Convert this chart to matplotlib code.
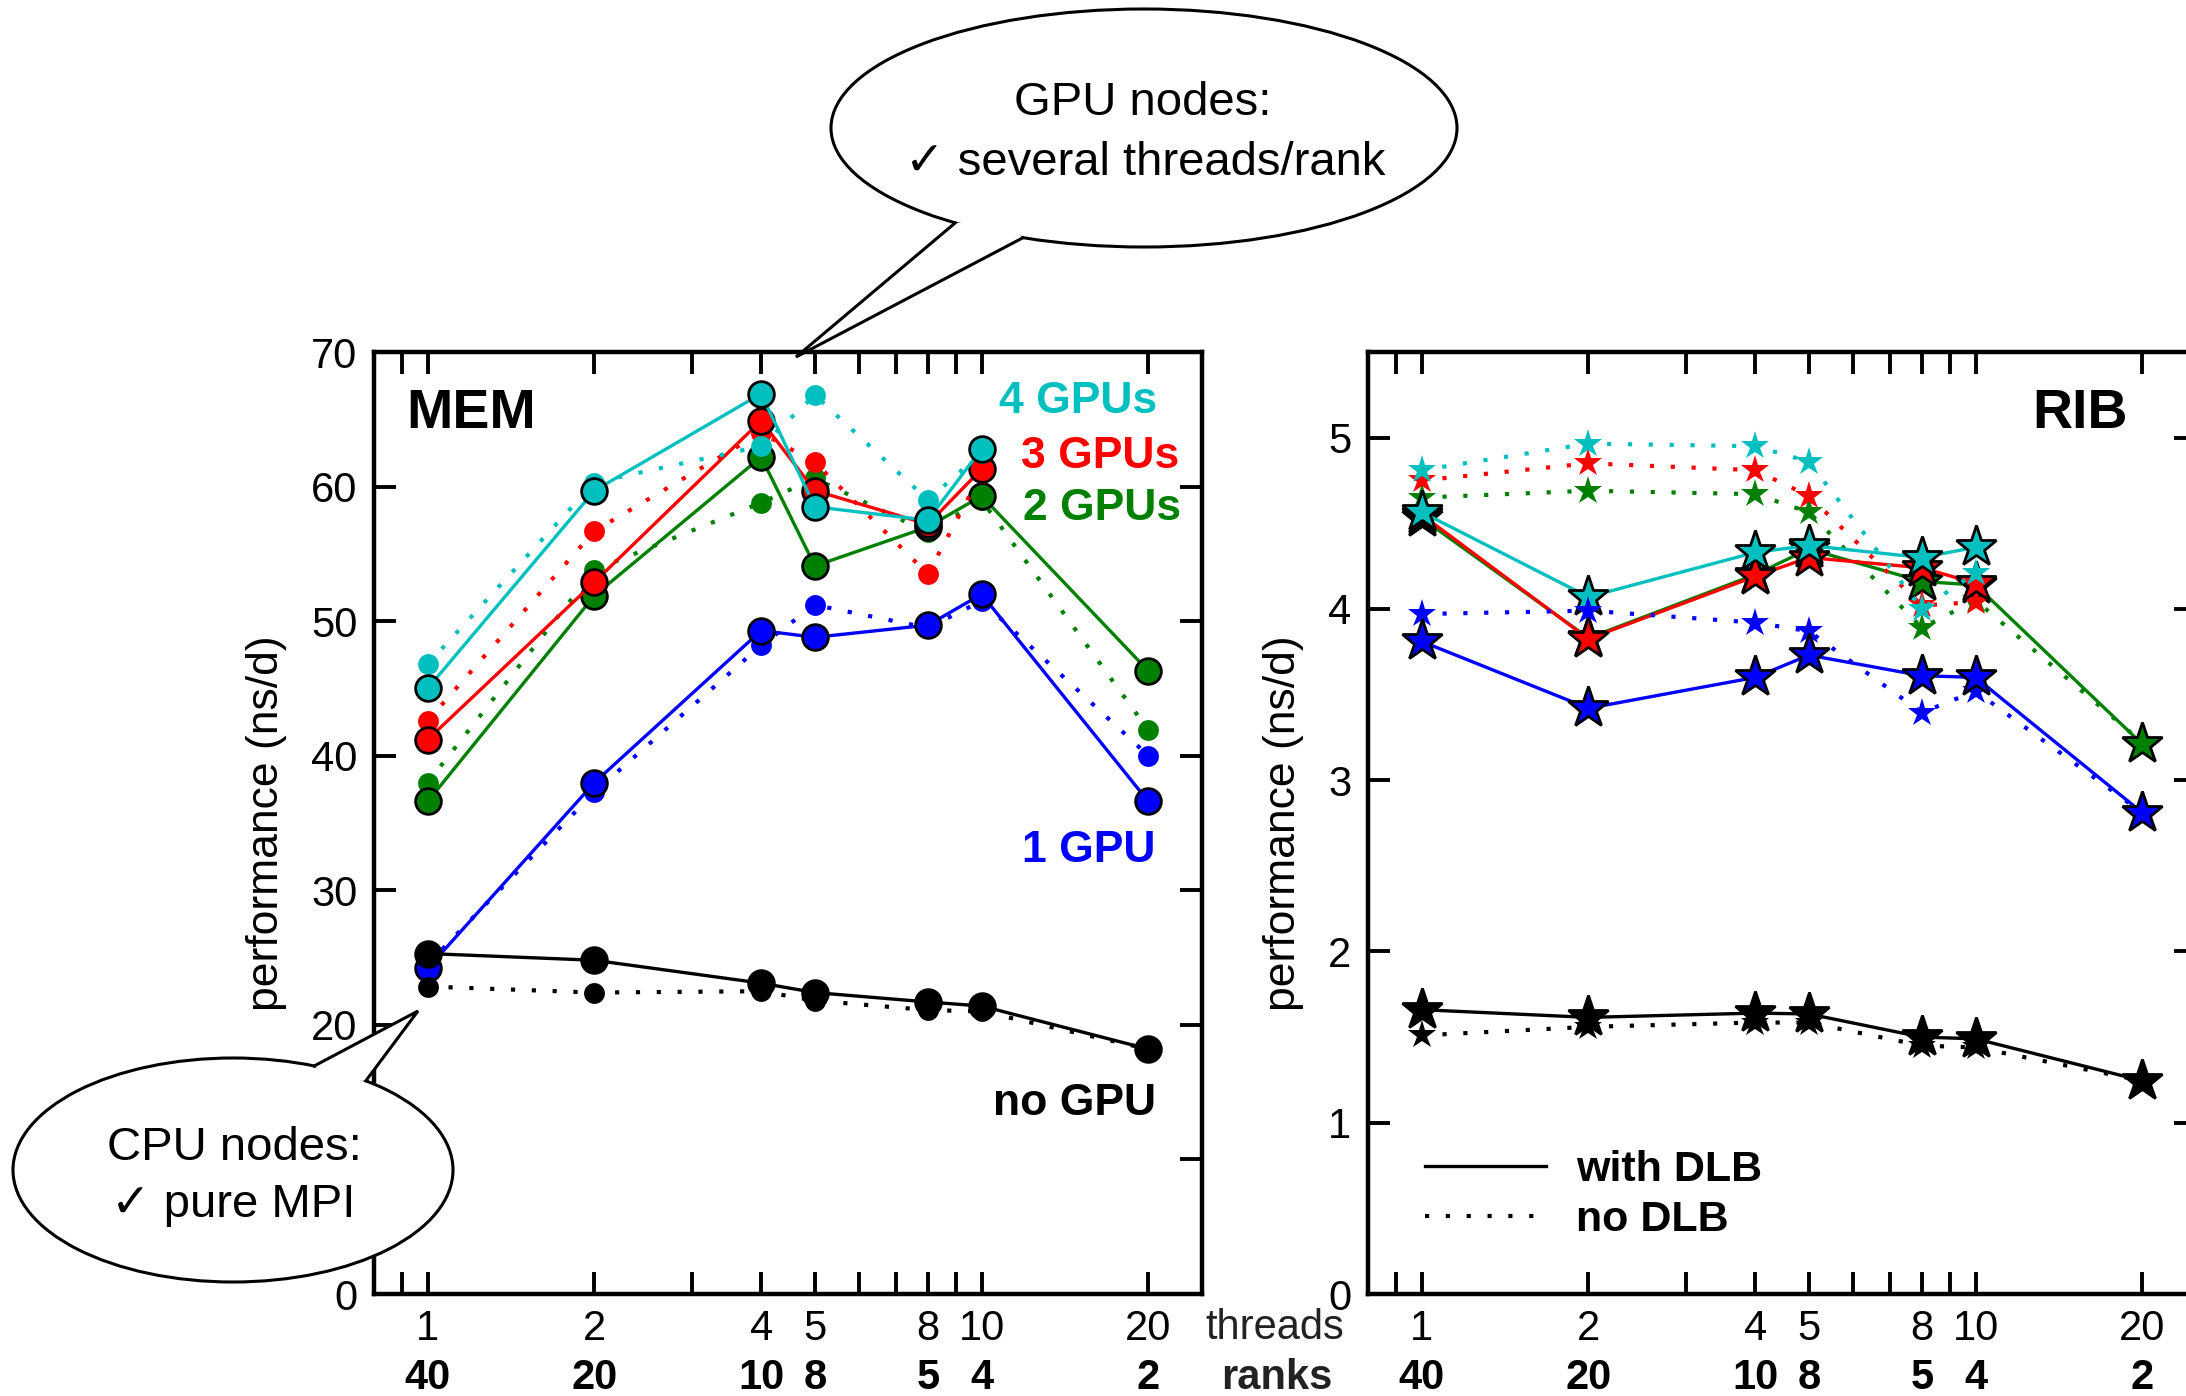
import numpy as np
import matplotlib
matplotlib.use('agg')
import matplotlib.pyplot as plt
import matplotlib.ticker as ticker
import matplotlib.transforms as mtransforms
from matplotlib.patches import Ellipse, Polygon
from matplotlib.lines import Line2D

plt.rcParams['font.family'] = ['Liberation Sans', 'DejaVu Sans']

W, H = 2186, 1396

threads = [1, 2, 4, 5, 8, 10, 20]
ranks = [40, 20, 10, 8, 5, 4, 2]
minor_threads = [0.9, 3, 6, 7, 9]

# MEM benchmark, ns/day (dlb = with dynamic load balancing)
mem_0gpu_dlb = [25.3, 24.8, 23.1, 22.4, 21.7, 21.4, 18.2]
mem_0gpu_nodlb = [22.85, 22.4, 22.5, 21.8, 21.1, 21.0, 18.2]
mem_1gpu_dlb = [24.2, 38.0, 49.3, 48.8, 49.7, 52.0, 36.6]
mem_1gpu_nodlb = [24.5, 37.3, 48.2, 51.2, 49.5, 51.5, 40.0]
mem_2gpu_dlb = [36.6, 51.9, 62.2, 54.1, 57.0, 59.3, 46.3]
mem_2gpu_nodlb = [38.0, 53.8, 58.8, 60.6, 56.6, 59.0, 41.9]
mem_3gpu_dlb = [41.2, 52.9, 64.9, 59.7, 57.2, 61.3]
mem_3gpu_nodlb = [42.6, 56.7, 64.0, 61.8, 53.5, 61.0]
mem_4gpu_dlb = [45.0, 59.7, 66.9, 58.5, 57.5, 62.8]
mem_4gpu_nodlb = [46.8, 60.3, 63.0, 66.8, 59.0, 62.5]

# RIB benchmark, ns/day
rib_0gpu_dlb = [1.66, 1.615, 1.64, 1.635, 1.50, 1.49, 1.245]
rib_0gpu_nodlb = [1.51, 1.56, 1.585, 1.585, 1.45, 1.44, 1.245]
rib_1gpu_dlb = [3.81, 3.42, 3.60, 3.73, 3.61, 3.60, 2.81]
rib_1gpu_nodlb = [3.97, 3.99, 3.92, 3.87, 3.395, 3.52, 2.81]
rib_2gpu_dlb = [4.53, 3.83, 4.20, 4.35, 4.16, 4.14, 3.21]
rib_2gpu_nodlb = [4.65, 4.69, 4.67, 4.565, 3.89, 4.05, 3.22]
rib_3gpu_dlb = [4.55, 3.825, 4.19, 4.30, 4.24, 4.15]
rib_3gpu_nodlb = [4.75, 4.85, 4.81, 4.66, 4.02, 4.04]
rib_4gpu_dlb = [4.565, 4.07, 4.33, 4.37, 4.30, 4.36]
rib_4gpu_nodlb = [4.81, 4.965, 4.95, 4.86, 4.00, 4.21]

CYAN, RED, GREEN, BLUE = '#00BFBF', '#FF0000', '#008000', '#0000FF'
DOTS = (0, (1, 4))


def fp(x, y):
    # pixel position (from top-left) -> figure fraction
    return (x / W, 1 - y / H)


fig = plt.figure(figsize=(W / 100, H / 100), dpi=100)
ax1 = fig.add_axes([374 / W, (H - 1294) / H, 828 / W, 942 / H])
ax2 = fig.add_axes([1368 / W, (H - 1294) / H, 828 / W, 942 / H])


def series(ax, dlb, nodlb, color, marker, big, small):
    ax.plot(threads[:len(nodlb)], nodlb, linestyle=DOTS, lw=3.0, color=color,
            marker=marker, ms=small, mec=color, mew=0)
    ax.plot(threads[:len(dlb)], dlb, '-', lw=2.4, color=color,
            marker=marker, ms=big, mec='k', mew=2.0)


series(ax1, mem_2gpu_dlb, mem_2gpu_nodlb, GREEN, 'o', 18.5, 15)
series(ax1, mem_3gpu_dlb, mem_3gpu_nodlb, RED, 'o', 18.5, 15)
series(ax1, mem_4gpu_dlb, mem_4gpu_nodlb, CYAN, 'o', 18.5, 15)
series(ax1, mem_1gpu_dlb, mem_1gpu_nodlb, BLUE, 'o', 18.5, 15)
series(ax1, mem_0gpu_dlb, mem_0gpu_nodlb, 'k', 'o', 18.5, 15)

series(ax2, rib_2gpu_dlb, rib_2gpu_nodlb, GREEN, '*', 31, 21)
series(ax2, rib_3gpu_dlb, rib_3gpu_nodlb, RED, '*', 31, 21)
series(ax2, rib_4gpu_dlb, rib_4gpu_nodlb, CYAN, '*', 31, 21)
series(ax2, rib_1gpu_dlb, rib_1gpu_nodlb, BLUE, '*', 31, 21)
series(ax2, rib_0gpu_dlb, rib_0gpu_nodlb, 'k', '*', 31, 21)

ax1.set_ylim(0, 70)
ax1.set_yticks(range(0, 71, 10))
ax2.set_ylim(0, 5.5)
ax2.set_yticks(range(0, 6))

blend = lambda ax: mtransforms.blended_transform_factory(ax.transData, fig.transFigure)
for ax in (ax1, ax2):
    ax.set_xscale('log')
    ax.set_xlim(0.8, 25)
    ax.set_xticks(threads)
    ax.set_xticklabels([str(t) for t in threads])
    ax.set_xticks(minor_threads, minor=True)
    ax.xaxis.set_minor_formatter(ticker.NullFormatter())
    ax.tick_params(which='both', direction='in', length=16, width=2.8,
                   top=True, right=True, labelsize=30, pad=11)
    ax.tick_params(axis='y', pad=12)
    for s in ax.spines.values():
        s.set_linewidth(3.2)
    ax.set_ylabel('performance (ns/d)', fontsize=32, labelpad=17)
    for t, r in zip(threads, ranks):
        ax.text(t, fp(0, 1389)[1], str(r), transform=blend(ax), ha='center', va='baseline',
                fontsize=30, weight='bold', clip_on=False)

fig.text(*fp(1275, 1339), 'threads', ha='center', va='baseline', fontsize=30, color='#222222')
fig.text(*fp(1277, 1389), 'ranks', ha='center', va='baseline', fontsize=30, weight='bold', color='#222222')

# panel titles and curve labels
fig.text(*fp(406, 428), 'MEM', ha='left', va='baseline', fontsize=40, weight='bold')
fig.text(*fp(2128, 428), 'RIB', ha='right', va='baseline', fontsize=40, weight='bold')
for txt, col, x, y in [('4 GPUs', CYAN, 1157, 413), ('3 GPUs', RED, 1179, 468),
                       ('2 GPUs', GREEN, 1181, 520), ('1 GPU', BLUE, 1156, 862),
                       ('no GPU', 'k', 1156, 1115)]:
    fig.text(*fp(x, y), txt, color=col, ha='right', va='baseline', fontsize=32, weight='bold')

handles = [Line2D([], [], color='k', lw=2.4),
           Line2D([], [], color='k', lw=3.0, linestyle=DOTS)]
ax2.legend(handles, ['with DLB', 'no DLB'], loc='center left', bbox_to_anchor=fp(1425, 1195),
           bbox_transform=fig.transFigure, frameon=False, borderpad=0, borderaxespad=0,
           handlelength=2.8, handletextpad=0.7, labelspacing=0.25,
           prop={'size': 31, 'weight': 'bold'})


def on_ellipse(p, c, w, h):
    dx, dy = p[0] - c[0], p[1] - c[1]
    k = 1 / np.sqrt((dx / (w / 2)) ** 2 + (dy / (h / 2)) ** 2)
    return (c[0] + dx * k, c[1] + dy * k)


def bubble(c, w, h, b1, tip, b2, lines):
    b1 = on_ellipse(b1, c, w, h)
    b2 = on_ellipse(b2, c, w, h)
    fig.add_artist(Ellipse(fp(*c), w / W, h / H, transform=fig.transFigure,
                           fc='white', ec='k', lw=2.2, zorder=10))
    mid = ((b1[0] + b2[0]) / 2, (b1[1] + b2[1]) / 2)
    inner = (mid[0] + 0.08 * (c[0] - mid[0]), mid[1] + 0.08 * (c[1] - mid[1]))
    fig.add_artist(Polygon([fp(*b1), fp(*tip), fp(*b2), fp(*inner)], closed=True,
                           transform=fig.transFigure, fc='white', ec='none', zorder=11))
    pts = [fp(*b1), fp(*tip), fp(*b2)]
    fig.add_artist(Line2D([p[0] for p in pts], [p[1] for p in pts], transform=fig.transFigure,
                          color='k', lw=2.2, solid_joinstyle='miter', zorder=12))
    for x, y, s in lines:
        fig.text(*fp(x, y), s, ha='center', va='baseline', fontsize=34, zorder=13)


bubble((1144, 128), 626, 238, (957, 222), (796, 357), (1026, 235),
       [(1143, 115, 'GPU nodes:'), (1145, 175, '✓ several threads/rank')])
bubble((233, 1170), 440, 224, (315, 1065), (418, 1011), (367, 1080),
       [(234, 1160, 'CPU nodes:'), (233, 1217, '✓ pure MPI')])

fig.savefig('out.png', dpi=100)
